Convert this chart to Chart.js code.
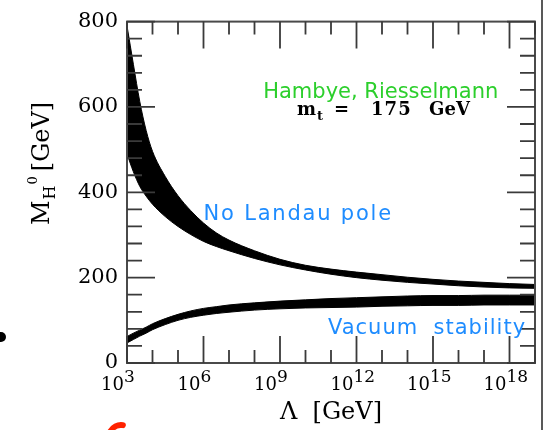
<!DOCTYPE html>
<html><head><meta charset="utf-8">
<script src="https://cdn.jsdelivr.net/npm/chart.js@4"></script>
<style>html,body{margin:0;padding:0;background:#fff;overflow:hidden}#wrap{width:545px;height:430px;position:relative}</style>
</head><body><div id="wrap"><canvas id="c" width="545" height="430"></canvas></div>
<script>
// ---- data ----
const lambdaExponents = [3, 3.25, 3.5, 3.75, 4, 4.5, 5, 5.5, 6, 6.5, 7, 8, 9, 10, 11, 12, 13, 14, 15, 16, 17, 18, 19];
const landauUpper    = [790, 700, 613, 545, 496, 437, 392, 357, 328, 305, 288, 263, 243, 229, 220, 213, 207, 201, 196, 192, 189, 186, 184];
const landauLower    = [490, 448, 414, 391, 372, 343, 320, 301, 285, 273, 263, 245, 230, 218, 208, 200, 194, 189, 185, 181, 178, 176, 175];
const stabilityUpper = [62, 70, 77, 84, 92, 104, 114, 122, 128, 132, 136, 141, 145, 148, 151, 153, 155, 157, 158, 158, 159, 159, 159];
const stabilityLower = [47, 55, 63, 70, 78, 90, 100, 107, 112, 116, 119, 124, 127, 129, 130, 131, 133, 134, 135, 135, 136, 136, 136];
const xTickExponents = [3, 6, 9, 12, 15, 18];
const yTickValues = [0, 200, 400, 600, 800];
const landauLabel = 'No Landau pole';
const stabilityLabel = 'Vacuum  stability';
const authorLabel = 'Hambye, Riesselmann';
const topMassLabel = ['m', 't', '=', '175', 'GeV'];
const xTitle = 'Λ  [GeV]';
const yTitle = ['M', 'H', '0', '[GeV]'];

const toPoints = ys => lambdaExponents.map((e, i) => ({ x: Math.pow(10, e), y: ys[i] }));
const band = (ys, fill) => ({
  data: toPoints(ys), fill: fill, backgroundColor: '#000', borderColor: '#000',
  borderWidth: 1, pointRadius: 0, cubicInterpolationMode: 'monotone'
});

const decor = {
  id: 'decor',
  afterDatasetsDraw(chart) {
    const ctx = chart.ctx, xs = chart.scales.x, ys = chart.scales.y, a = chart.chartArea;
    ctx.save();
    // frame
    ctx.strokeStyle = '#4a4a4a'; ctx.lineWidth = 2;
    ctx.strokeRect(a.left, a.top, a.right - a.left, a.bottom - a.top);
    // x ticks (every decade, longer every 3 decades), inward top & bottom
    ctx.strokeStyle = '#3a3a3a'; ctx.lineWidth = 1.8;
    for (let e = 3; e <= 19; e++) {
      const px = xs.getPixelForValue(Math.pow(10, e));
      const len = (e % 3 === 0) ? 27 : 13;
      ctx.beginPath();
      ctx.moveTo(px, a.bottom); ctx.lineTo(px, a.bottom - len);
      ctx.moveTo(px, a.top); ctx.lineTo(px, a.top + len);
      ctx.stroke();
    }
    // y ticks (every 40, longer every 200), inward left & right
    for (let v = 0; v <= 800; v += 40) {
      const py = ys.getPixelForValue(v);
      const len = (v % 200 === 0) ? 28 : 15;
      ctx.beginPath();
      ctx.moveTo(a.left, py); ctx.lineTo(a.left + len, py);
      ctx.moveTo(a.right, py); ctx.lineTo(a.right - len, py);
      ctx.stroke();
    }
    // x tick labels 10^n
    ctx.fillStyle = '#000';
    ctx.textBaseline = 'alphabetic';
    xTickExponents.forEach(e => {
      const px = xs.getPixelForValue(Math.pow(10, e));
      ctx.font = '18px "DejaVu Serif"';
      ctx.textAlign = 'right';
      ctx.fillText('10', px - 3, 390);
      ctx.font = '17px "DejaVu Serif"';
      ctx.textAlign = 'left';
      ctx.fillText(String(e), px - 3, 382);
    });
    // y title M_H^0 [GeV]
    ctx.save();
    ctx.translate(49, 225);
    ctx.rotate(-Math.PI / 2);
    ctx.textAlign = 'left';
    let x = 0;
    ctx.font = '24px "DejaVu Serif"';
    ctx.fillText(yTitle[0], x, 0); x += ctx.measureText(yTitle[0]).width + 1;
    ctx.font = '16px "DejaVu Serif"';
    ctx.fillText(yTitle[1], x, 6); x += ctx.measureText(yTitle[1]).width + 1;
    ctx.font = '13px "DejaVu Serif"';
    ctx.fillText(yTitle[2], x, -12); x += ctx.measureText(yTitle[2]).width + 5;
    ctx.font = '24px "DejaVu Serif"';
    ctx.fillText(yTitle[3], x, 0);
    ctx.restore();
    // annotations
    ctx.font = '21px "DejaVu Sans"';
    ctx.fillStyle = '#1e8cff';
    ctx.textAlign = 'left';
    ctx.letterSpacing = '1.8px';
    ctx.fillText(landauLabel, xs.getPixelForValue(1e6), ys.getPixelForValue(334));
    ctx.letterSpacing = '1px';
    ctx.fillText(stabilityLabel, xs.getPixelForValue(Math.pow(10, 10.88)), ys.getPixelForValue(69));
    ctx.fillStyle = '#2ccf2c';
    ctx.letterSpacing = '0px';
    ctx.textAlign = 'center';
    ctx.fillText(authorLabel, xs.getPixelForValue(Math.pow(10, 12.95)), ys.getPixelForValue(622));
    // m_t = 175 GeV
    ctx.fillStyle = '#000';
    ctx.textAlign = 'left';
    const mx = xs.getPixelForValue(Math.pow(10, 9.67)), my = ys.getPixelForValue(581);
    ctx.font = 'bold 18px "DejaVu Serif"';
    ctx.fillText(topMassLabel[0], mx, my);
    ctx.font = 'bold 13px "DejaVu Serif"';
    ctx.fillText(topMassLabel[1], mx + 20, my + 5);
    ctx.font = 'bold 18px "DejaVu Serif"';
    ctx.fillText(topMassLabel[2], mx + 37, my);
    ctx.letterSpacing = '1px';
    ctx.fillText(topMassLabel[3], mx + 74, my);
    ctx.letterSpacing = '0px';
    ctx.fillText(topMassLabel[4], mx + 132, my);
    ctx.restore();
  },
  afterDraw(chart) {
    const ctx = chart.ctx;
    ctx.save();
    // slide border line on the right
    ctx.strokeStyle = '#222'; ctx.lineWidth = 1.5;
    ctx.beginPath(); ctx.moveTo(542, 0); ctx.lineTo(542, 430); ctx.stroke();
    // stray bullet dot
    ctx.fillStyle = '#000';
    ctx.beginPath(); ctx.arc(1, 337, 5, 0, Math.PI * 2); ctx.fill();
    // red partial glyph at bottom
    ctx.strokeStyle = '#ff2200'; ctx.lineWidth = 6; ctx.lineCap = 'round';
    ctx.beginPath(); ctx.arc(121, 437, 12, Math.PI * 1.15, Math.PI * 1.55); ctx.stroke();
    ctx.restore();
  }
};

new Chart(document.getElementById('c'), {
  type: 'line',
  data: {
    datasets: [
      band(landauUpper, '+1'),
      band(landauLower, false),
      band(stabilityUpper, '+1'),
      band(stabilityLower, false)
    ]
  },
  options: {
    responsive: false,
    devicePixelRatio: 1,
    animation: false,
    layout: { padding: { left: 0, top: 16, right: 10, bottom: 0 }, autoPadding: false },
    plugins: { legend: { display: false }, tooltip: { enabled: false } },
    scales: {
      x: {
        type: 'logarithmic', min: 1e3, max: 1e19,
        grid: { display: false, drawTicks: false }, border: { display: false },
        ticks: { display: false },
        title: { display: true, text: xTitle, color: '#000', font: { family: 'DejaVu Serif', size: 24 }, padding: { top: 0, bottom: 3 } },
        afterFit(s) { s.height = 67; }
      },
      y: {
        type: 'linear', min: 0, max: 800,
        afterBuildTicks(s) { s.ticks = yTickValues.map(v => ({ value: v })); },
        grid: { display: false, drawTicks: false }, border: { display: false },
        ticks: { padding: 9, color: '#000', font: { family: 'DejaVu Serif', size: 21 } },
        afterFit(s) { s.width = 127; }
      }
    }
  },
  plugins: [decor]
});
</script></body></html>
